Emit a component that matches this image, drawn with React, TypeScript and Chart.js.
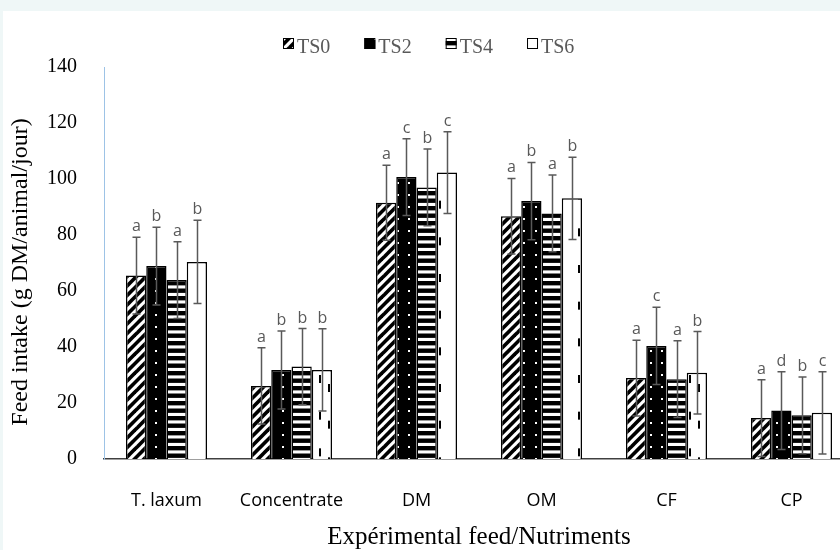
import React, { useEffect, useRef } from 'react';
import { Chart, registerables } from 'chart.js';

Chart.register(...registerables);

// ---------- data ----------
const categories = ['T. laxum', 'Concentrate', 'DM', 'OM', 'CF', 'CP'];
const seriesNames = ['TS0', 'TS2', 'TS4', 'TS6'];

const ts0 = [65.5, 26.1, 91.5, 86.7, 28.9, 14.6];
const ts2 = [68.9, 31.8, 100.7, 92.1, 40.4, 17.3];
const ts4 = [63.9, 33.0, 97.0, 87.7, 28.5, 15.6];
const ts6 = [70.4, 31.8, 102.3, 93.1, 30.8, 16.5];

const err0 = [13.7, 13.6, 13.4, 13.5, 13.5, 13.7];
const err2 = [13.9, 13.9, 13.7, 13.8, 13.8, 13.9];
const err4 = [13.7, 13.6, 13.7, 13.7, 13.7, 13.7];
const err6 = [14.9, 14.7, 14.6, 14.7, 14.7, 14.7];

const letters0 = ['a', 'a', 'a', 'a', 'a', 'a'];
const letters2 = ['b', 'b', 'c', 'b', 'c', 'd'];
const letters4 = ['a', 'b', 'b', 'a', 'a', 'b'];
const letters6 = ['b', 'b', 'c', 'b', 'b', 'c'];

const yMin = 0;
const yMax = 140;
const yStep = 20;

const yTitle = 'Feed intake (g DM/animal/jour)\u00A0\u00A0\u00A0';
const xTitle = 'Expérimental feed/Nutriments';

const seriesValues = [ts0, ts2, ts4, ts6];
const seriesErrors = [err0, err2, err4, err6];
const seriesLetters = [letters0, letters2, letters4, letters6];

// ---------- patterns ----------
function tile(w: number, h: number) {
  const c = document.createElement('canvas');
  c.width = w;
  c.height = h;
  return c;
}

function diagPattern(ctx: CanvasRenderingContext2D) {
  const s = 19;
  const c = tile(s, s);
  const g = c.getContext('2d')!;
  g.fillStyle = '#fff';
  g.fillRect(0, 0, s, s);
  g.strokeStyle = '#000';
  g.lineWidth = 3.7;
  for (let k = -3; k <= 3; k++) {
    const o = (k * s) / 2;
    g.beginPath();
    g.moveTo(o - 2, s + 2);
    g.lineTo(o + s + 2, -2);
    g.stroke();
  }
  return ctx.createPattern(c, 'repeat')!;
}

function dotPattern(ctx: CanvasRenderingContext2D) {
  const c = tile(23, 24);
  const g = c.getContext('2d')!;
  g.fillStyle = '#000';
  g.fillRect(0, 0, 23, 24);
  g.fillStyle = '#fff';
  g.fillRect(3, 3, 2, 2);
  g.fillRect(14, 3, 2, 2);
  g.fillRect(3, 15, 2, 2);
  g.fillRect(14, 15, 2, 2);
  return ctx.createPattern(c, 'repeat')!;
}

function hStripePattern(ctx: CanvasRenderingContext2D) {
  const c = tile(4, 15);
  const g = c.getContext('2d')!;
  g.fillStyle = '#fff';
  g.fillRect(0, 0, 4, 15);
  g.fillStyle = '#000';
  g.fillRect(0, 0, 4, 4.4);
  g.fillRect(0, 7.5, 4, 4.4);
  return ctx.createPattern(c, 'repeat')!;
}

function dashPattern(ctx: CanvasRenderingContext2D) {
  const w = 37;
  const h = 110;
  const c = tile(w, h);
  const g = c.getContext('2d')!;
  g.fillStyle = '#fff';
  g.fillRect(0, 0, w, h);
  g.fillStyle = '#000';
  const p = h / 3;
  for (let k = -4; k <= 4; k++) {
    g.fillRect(20, 34 + k * p, 2, 8);
    g.fillRect(29, 43 + k * p, 2, 8);
  }
  return ctx.createPattern(c, 'repeat')!;
}

// ---------- plugins ----------
const errorPlugin = {
  id: 'errorBarsLetters',
  afterDatasetsDraw(chart: any) {
    const ctx: CanvasRenderingContext2D = chart.ctx;
    const y = chart.scales.y;
    chart.data.datasets.forEach((ds: any, di: number) => {
      const meta = chart.getDatasetMeta(di);
      const errs = seriesErrors[di];
      const lets = seriesLetters[di];
      meta.data.forEach((bar: any, i: number) => {
        const v = ds.data[i];
        const x = Math.round(bar.x) + 0.5;
        const top = y.getPixelForValue(v + errs[i]);
        const bot = y.getPixelForValue(Math.max(0, v - errs[i]));
        ctx.save();
        ctx.strokeStyle = '#595959';
        ctx.lineWidth = 1.5;
        ctx.beginPath();
        ctx.moveTo(x, top);
        ctx.lineTo(x, bot);
        ctx.moveTo(x - 4, top);
        ctx.lineTo(x + 4, top);
        ctx.moveTo(x - 4, bot);
        ctx.lineTo(x + 4, bot);
        ctx.stroke();
        ctx.fillStyle = '#595959';
        ctx.font = '16px "Open Sans"';
        ctx.textAlign = 'center';
        ctx.textBaseline = 'alphabetic';
        ctx.fillText(lets[i], x, top - 6);
        ctx.restore();
      });
    });
  },
};

const legendPlugin = {
  id: 'patternLegend',
  afterDraw(chart: any) {
    const ctx: CanvasRenderingContext2D = chart.ctx;
    ctx.save();
    ctx.font = '20px "Liberation Serif"';
    const box = 11;
    const gapText = 3;
    const gapItem = 34;
    const widths = seriesNames.map((n) => box + gapText + ctx.measureText(n).width);
    const total = widths.reduce((a, b) => a + b, 0) + gapItem * (widths.length - 1);
    let x = Math.round(chart.width / 2 - total / 2);
    const boxTop = 27;
    chart.data.datasets.forEach((ds: any, i: number) => {
      ctx.fillStyle = ds.backgroundColor;
      ctx.fillRect(x, boxTop, box, box);
      ctx.strokeStyle = '#000';
      ctx.lineWidth = 1;
      ctx.strokeRect(x + 0.5, boxTop + 0.5, box - 1, box - 1);
      ctx.fillStyle = '#595959';
      ctx.textAlign = 'left';
      ctx.textBaseline = 'alphabetic';
      ctx.fillText(seriesNames[i], x + box + gapText, 42);
      x += widths[i] + gapItem;
    });
    ctx.restore();
  },
};

export default function App() {
  const ref = useRef<HTMLCanvasElement | null>(null);

  useEffect(() => {
    document.body.style.margin = '0';
    const canvas = ref.current!;
    const ctx = canvas.getContext('2d')!;
    const patterns = [diagPattern(ctx), dotPattern(ctx), hStripePattern(ctx), dashPattern(ctx)];

    const chart = new Chart(canvas, {
      type: 'bar',
      data: {
        labels: categories,
        datasets: seriesNames.map((name, i) => ({
          label: name,
          data: seriesValues[i],
          backgroundColor: patterns[i] as any,
          borderColor: '#000',
          borderWidth: 1.5,
          categoryPercentage: 0.648,
          barPercentage: 1.0,
        })),
      },
      options: {
        responsive: false,
        animation: false,
        devicePixelRatio: 1,
        layout: { padding: { top: 56, left: 0, right: 0, bottom: 0 } },
        plugins: {
          legend: { display: false },
          tooltip: { enabled: false },
          title: { display: false },
        },
        scales: {
          x: {
            grid: { display: false },
            border: { display: true, color: '#404040', width: 1.5 },
            ticks: {
              color: '#000',
              font: { family: '"Open Sans"', size: 18 },
              padding: 23,
            },
            title: {
              display: true,
              text: xTitle,
              color: '#000',
              font: { family: '"Liberation Serif"', size: 25, lineHeight: 1.0 },
              padding: { top: 0, bottom: 0 },
            },
            afterFit: (scale: any) => {
              scale.height = 91;
            },
          },
          y: {
            min: yMin,
            max: yMax,
            grid: { display: false },
            border: { display: true, color: '#9dc3e6', width: 1 },
            ticks: {
              stepSize: yStep,
              color: '#000',
              font: { family: '"Liberation Serif"', size: 20 },
              padding: 19,
            },
            title: {
              display: true,
              text: yTitle,
              color: '#000',
              font: { family: '"Liberation Serif"', size: 24, lineHeight: 1.2 },
              padding: { top: 3, bottom: 0 },
            },
            afterFit: (scale: any) => {
              scale.width = 101;
            },
          },
        },
      },
      plugins: [errorPlugin, legendPlugin],
    });
    return () => chart.destroy();
  }, []);

  return (
    <div
      style={{
        position: 'fixed',
        left: 0,
        top: 0,
        width: 840,
        height: 550,
        background: '#eff7f7',
        overflow: 'hidden',
      }}
    >
      <div
        style={{
          position: 'absolute',
          left: 3,
          top: 11,
          width: 837,
          height: 539,
          background: '#fff',
          overflow: 'hidden',
        }}
      >
        <canvas ref={ref} width={851} height={539} style={{ display: 'block', width: 851, height: 539 }} />
      </div>
    </div>
  );
}
